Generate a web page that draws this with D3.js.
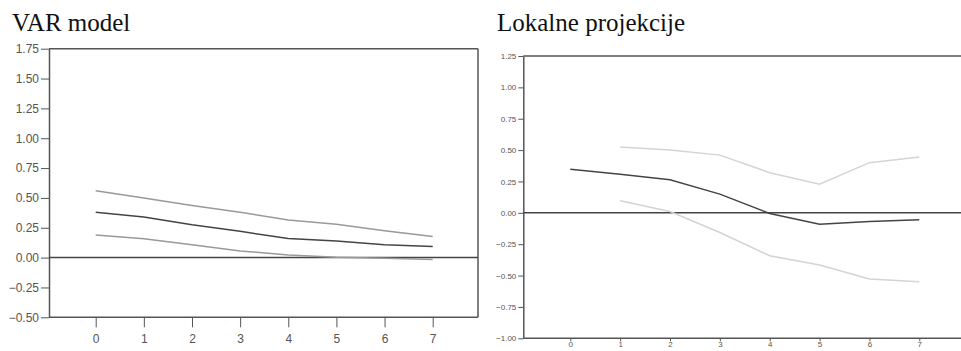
<!DOCTYPE html>
<html>
<head>
    <meta charset="utf-8">
    <style>
        body { margin: 0; background: #fff; }
        .title { font-family: "Liberation Serif", "DejaVu Serif", serif; font-size: 25px; fill: #111; }
        .axis text { font-family: "Liberation Sans Narrow", "Liberation Sans", sans-serif; fill: #555; }
        .axis path, .axis line { stroke: #555; }
    </style>
</head>
<body>
    <svg width="961" height="351"></svg>
    <script src="https://d3js.org/d3.v7.min.js"></script>
    <script>
        var svg = d3.select("svg");

        // horizons
        var steps = [0, 1, 2, 3, 4, 5, 6, 7];

        // VAR model
        var varUpper = [0.56, 0.50, 0.436, 0.38, 0.316, 0.28, 0.226, 0.176];
        var varMid = [0.38, 0.34, 0.275, 0.22, 0.16, 0.14, 0.107, 0.093];
        var varLower = [0.19, 0.157, 0.107, 0.056, 0.022, 0.002, -0.005, -0.015];
        var varTicks = [1.75, 1.50, 1.25, 1.00, 0.75, 0.50, 0.25, 0.00, -0.25, -0.50];

        // Lokalne projekcije (bands start at horizon 1)
        var lpSteps = [1, 2, 3, 4, 5, 6, 7];
        var lpUpper = [0.525, 0.50, 0.46, 0.32, 0.228, 0.40, 0.445];
        var lpMid = [0.348, 0.308, 0.263, 0.149, -0.005, -0.09, -0.07, -0.056];
        var lpLower = [0.096, 0.01, -0.157, -0.342, -0.416, -0.528, -0.55];
        var lpTicks = [1.25, 1.00, 0.75, 0.50, 0.25, 0.00, -0.25, -0.50, -0.75, -1.00];

        function panel(o) {
            var g = svg.append("g");
            g.append("text").attr("class", "title")
                .attr("x", o.titleX).attr("y", 31).text(o.title);

            var x = d3.scaleLinear().domain([0, 7]).range(o.xRange);
            var y = d3.scaleLinear().domain(o.yDomain).range(o.yRange);

            // top border
            g.append("line")
                .attr("x1", o.left).attr("x2", o.right)
                .attr("y1", y(o.yDomain[1])).attr("y2", y(o.yDomain[1]))
                .attr("stroke", "#555").attr("stroke-width", 1.5);
            if (o.rightBorder) {
                g.append("line")
                    .attr("x1", o.right).attr("x2", o.right)
                    .attr("y1", y(o.yDomain[1])).attr("y2", y(o.yDomain[0]))
                    .attr("stroke", "#555").attr("stroke-width", 1.5);
            }

            var ya = g.append("g").attr("class", "axis")
                .attr("transform", "translate(" + o.left + ",0)")
                .call(d3.axisLeft(y).tickValues(o.ticks).tickSize(o.tickLen)
                    .tickFormat(d3.format(".2f")).tickSizeOuter(0));
            ya.select(".domain").attr("stroke-width", 1.5);
            ya.selectAll("text").style("font-size", o.fontSize + "px")
                .attr("x", -o.tickLen - 2);

            var xa = g.append("g").attr("class", "axis")
                .attr("transform", "translate(0," + y(o.yDomain[0]) + ")")
                .call(d3.axisBottom(x).tickValues(steps).tickSize(o.xTickLen)
                    .tickFormat(d3.format("d")).tickSizeOuter(0));
            xa.select(".domain").attr("d", "M" + o.left + ",0H" + o.right)
                .attr("stroke-width", 1.5);
            xa.selectAll("text").style("font-size", o.fontSize + "px")
                .attr("y", o.xLabelY);

            // zero line
            g.append("line")
                .attr("x1", o.left).attr("x2", o.right)
                .attr("y1", y(0)).attr("y2", y(0))
                .attr("stroke", "#444").attr("stroke-width", 1.5);

            var line = d3.line()
                .x(function (d) { return x(d[0]); })
                .y(function (d) { return y(d[1]); });

            o.series.forEach(function (s) {
                g.append("path")
                    .datum(d3.zip(s.xs, s.ys))
                    .attr("fill", "none")
                    .attr("stroke", s.color)
                    .attr("stroke-width", 1.5)
                    .attr("d", line);
            });
        }

        panel({
            title: "VAR model", titleX: 12,
            left: 49, right: 478, rightBorder: true,
            xRange: [95.7, 432.7],
            yDomain: [-0.5, 1.75], yRange: [317.3, 48.7],
            ticks: varTicks, tickLen: 8, xTickLen: 10, xLabelY: 17, fontSize: 12,
            series: [
                { xs: steps, ys: varUpper, color: "#999" },
                { xs: steps, ys: varLower, color: "#999" },
                { xs: steps, ys: varMid, color: "#444" }
            ]
        });

        panel({
            title: "Lokalne projekcije", titleX: 497,
            left: 523.3, right: 961, rightBorder: false,
            xRange: [570.3, 919.3],
            yDomain: [-1, 1.25], yRange: [338.3, 56],
            ticks: lpTicks, tickLen: 5, xTickLen: 3, xLabelY: 3.5, fontSize: 8,
            series: [
                { xs: lpSteps, ys: lpUpper, color: "#d4d4d4" },
                { xs: lpSteps, ys: lpLower, color: "#d4d4d4" },
                { xs: steps, ys: lpMid, color: "#444" }
            ]
        });
    </script>
</body>
</html>
